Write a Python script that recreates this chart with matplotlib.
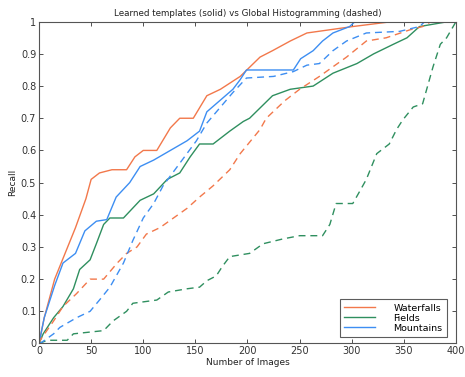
import matplotlib
matplotlib.use("Agg")
import matplotlib.pyplot as plt

# Learned templates (solid)
wf_x = [0, 5, 15, 25, 35, 45, 50, 58, 70, 84, 92, 100, 113, 126, 135, 148, 161, 174, 193, 212, 224, 241, 257, 279, 301, 338, 400]
wf_y = [0, 0.08, 0.2, 0.28, 0.36, 0.45, 0.51, 0.53, 0.54, 0.54, 0.58, 0.60, 0.60, 0.67, 0.70, 0.70, 0.77, 0.79, 0.83, 0.89, 0.91, 0.94, 0.965, 0.975, 0.985, 1.0, 1.0]

fi_x = [0, 4, 14, 23, 33, 39, 49, 55, 62, 68, 81, 97, 110, 123, 135, 145, 154, 167, 183, 196, 202, 224, 241, 263, 282, 305, 321, 340, 353, 365, 392, 400]
fi_y = [0, 0.03, 0.08, 0.115, 0.17, 0.23, 0.26, 0.31, 0.37, 0.39, 0.39, 0.445, 0.465, 0.51, 0.53, 0.58, 0.62, 0.62, 0.66, 0.69, 0.70, 0.77, 0.79, 0.80, 0.84, 0.87, 0.90, 0.93, 0.95, 0.985, 1.0, 1.0]

mo_x = [0, 5, 15, 23, 35, 44, 55, 65, 74, 87, 97, 110, 126, 142, 154, 161, 186, 193, 199, 244, 251, 263, 272, 282, 298, 303, 400]
mo_y = [0, 0.08, 0.18, 0.25, 0.28, 0.35, 0.38, 0.385, 0.455, 0.50, 0.55, 0.57, 0.60, 0.63, 0.66, 0.72, 0.79, 0.82, 0.85, 0.85, 0.885, 0.91, 0.94, 0.965, 0.985, 1.0, 1.0]

# Global histogramming (dashed)
wfh_x = [0, 1, 14, 23, 36, 49, 62, 75, 84, 94, 103, 116, 129, 142, 154, 167, 183, 193, 212, 218, 236, 250, 269, 282, 295, 314, 333, 356, 368, 376, 400]
wfh_y = [0, 0.01, 0.07, 0.115, 0.155, 0.20, 0.20, 0.25, 0.28, 0.30, 0.34, 0.36, 0.39, 0.42, 0.455, 0.49, 0.54, 0.59, 0.665, 0.70, 0.755, 0.79, 0.83, 0.86, 0.89, 0.94, 0.95, 0.975, 0.985, 1.0, 1.0]

fih_x = [0, 8, 27, 33, 62, 71, 84, 90, 113, 124, 142, 154, 161, 170, 176, 183, 202, 215, 234, 250, 272, 279, 285, 301, 308, 314, 324, 336, 343, 349, 359, 368, 378, 385, 391, 400]
fih_y = [0, 0.01, 0.01, 0.03, 0.04, 0.07, 0.10, 0.125, 0.135, 0.16, 0.17, 0.175, 0.195, 0.21, 0.24, 0.27, 0.28, 0.31, 0.325, 0.335, 0.335, 0.37, 0.435, 0.435, 0.475, 0.51, 0.59, 0.62, 0.665, 0.695, 0.735, 0.745, 0.86, 0.93, 0.95, 1.0]

moh_x = [0, 1, 14, 20, 36, 49, 58, 68, 81, 90, 100, 110, 119, 135, 151, 161, 186, 199, 225, 244, 257, 269, 282, 295, 314, 346, 365, 370, 400]
moh_y = [0, 0.0, 0.03, 0.05, 0.08, 0.10, 0.135, 0.175, 0.25, 0.32, 0.39, 0.435, 0.49, 0.56, 0.63, 0.685, 0.78, 0.825, 0.83, 0.845, 0.865, 0.87, 0.91, 0.94, 0.965, 0.97, 0.985, 1.0, 1.0]

labels = ["Waterfalls", "Fields", "Mountains"]
colors = ["#f2784b", "#2f8f5f", "#3d8ef2"]

fig = plt.figure(figsize=(4.65, 3.77), dpi=100)
ax = fig.add_axes([0.0839, 0.0889, 0.8967, 0.8535])

solid = [(wf_x, wf_y), (fi_x, fi_y), (mo_x, mo_y)]
dashed = [(wfh_x, wfh_y), (fih_x, fih_y), (moh_x, moh_y)]
for (x, y), c, lab in zip(solid, colors, labels):
    ax.plot(x, y, color=c, lw=1.0, label=lab)
for (x, y), c in zip(dashed, colors):
    ax.plot(x, y, color=c, lw=1.0, dashes=(5, 3.5))

ax.set_xlim(0, 400)
ax.set_ylim(0, 1)
ax.set_xticks(range(0, 401, 50))
ax.set_yticks([i / 10 for i in range(11)])
ax.set_yticklabels(["0", "0.1", "0.2", "0.3", "0.4", "0.5", "0.6", "0.7", "0.8", "0.9", "1"])
ax.tick_params(direction="in", top=True, right=True, labelsize=7, length=3, width=0.6, colors="#333333", pad=2)
for s in ax.spines.values():
    s.set_color("#555555")
    s.set_linewidth(0.8)
ax.set_title("Learned templates (solid) vs Global Histogramming (dashed)", fontsize=6.3, pad=4, color="#222222")
ax.set_xlabel("Number of Images", fontsize=6.5, labelpad=1, color="#222222")
ax.set_ylabel("Recall", fontsize=6.5, labelpad=3, color="#222222")

leg = ax.legend(loc="lower right", fontsize=6.8, frameon=True, fancybox=False, edgecolor="#333333",
                handlelength=3.3, handletextpad=1.9, borderpad=0.45, labelspacing=0.12,
                borderaxespad=0, bbox_to_anchor=(0.978, 0.02))
leg.get_frame().set_linewidth(0.8)

fig.savefig("out.png", dpi=100)
